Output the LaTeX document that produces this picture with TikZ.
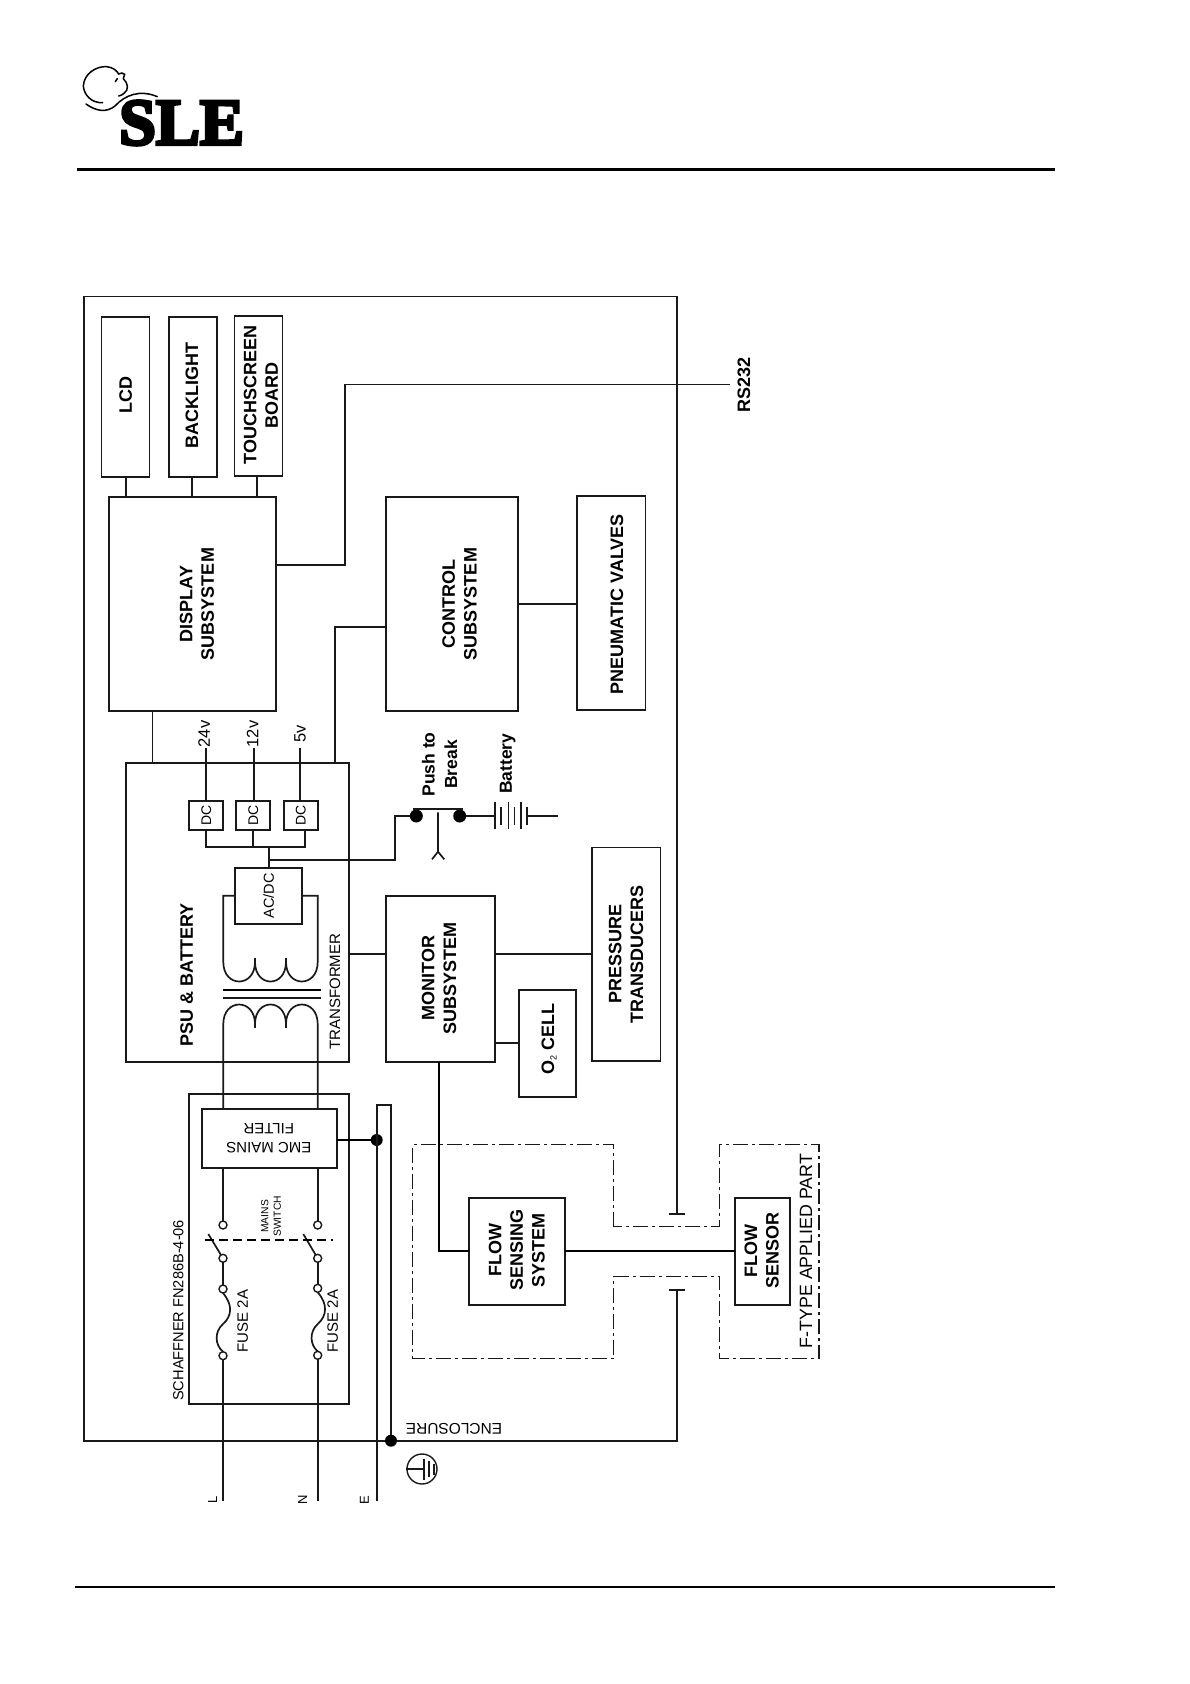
\documentclass[tikz,border=0pt]{standalone}
\usepackage{fontspec}
\setmainfont{Liberation Sans}
\newfontfamily\logofont[UprightFont=* Bold,FakeBold=5]{Liberation Serif}
\newcommand{\bxn}[6][]{\pgfmathsetmacro\bw{#5-#3}\pgfmathsetmacro\bh{#6-#4}\pgfmathsetmacro\bcx{(#3+#5)/2}\pgfmathsetmacro\bcy{(#4+#6)/2}\node[boxst,#1,minimum width=\bw pt,minimum height=\bh pt] (#2) at (\bcx,\bcy) {};}
\tikzset{
  wire/.style={line width=1.7pt,black!90},
  hvy/.style={line width=2.1pt,black},
  boxst/.style={draw=black!90,line width=1.7pt,inner sep=0,outer sep=0},
  bold18/.style={font=\fontsize{18}{21.6}\selectfont\bfseries,align=center,rotate=90,inner sep=0},
  reg15/.style={font=\fontsize{15}{17}\selectfont,align=center,rotate=90,inner sep=0},
  reg165/.style={font=\fontsize{16.5}{19}\selectfont,align=center,rotate=90,inner sep=0},
  tiny10/.style={font=\fontsize{10.3}{12.5}\selectfont,align=center,rotate=90,inner sep=0},
  upside/.style={font=\fontsize{15}{19}\selectfont,align=center,rotate=180,inner sep=0},
  term/.style={circle,draw=black!90,line width=1.4pt,fill=white,minimum size=8pt,inner sep=0,outer sep=0},
  jdot/.style={circle,fill=black,minimum size=12pt,inner sep=0,outer sep=0},
  ddot/.style={dash pattern=on 15pt off 4pt on 3pt off 4pt,line width=1.4pt,black!90},
}
\begin{document}
\begin{tikzpicture}[x=1pt,y=-1pt]
\useasboundingbox (0,0) rectangle (1190,1684);
\fill[white] (0,0) rectangle (1190,1684);
% header and footer
\coordinate (hl) at (77,169.5); \coordinate (hr) at (1055,169.5);
\coordinate (fl) at (75,1586.6); \coordinate (fr) at (1055,1586.6);
\draw[hvy] (hl) -- (hr);
\draw[hvy] (fl) -- (fr);
% logo
\node[font=\logofont\fontsize{66}{66}\selectfont,inner sep=0,anchor=base west] (logo) at (119,144.5) {SLE};
\begin{scope}[shift={(60,50)},scale=0.3333,line width=1.5pt,line cap=round]
\draw (78,162) .. controls (110,185) and (140,188) .. (165,168) .. controls (195,135) and (240,118) .. (292,140);
\draw (128,158) .. controls (95,160) and (72,135) .. (70,108) .. controls (72,70) and (110,48) .. (140,50) .. controls (160,52) and (170,62) .. (176,72) .. controls (182,68) and (190,68) .. (194,73) .. controls (192,80) and (190,83) .. (190,86) .. controls (205,100) and (207,120) .. (192,130) .. controls (188,134) and (182,137) .. (176,138);
\draw (166,95) -- (172,86);
\end{scope}
% outer enclosure
\coordinate (encTR) at (677,296.5);
\coordinate (encTL) at (84,296.5);
\coordinate (encBL) at (84,1440.7);
\coordinate (encBR) at (677,1440.7);
\coordinate (tUp) at (677,1213.7);
\coordinate (tDn) at (677,1290);
\draw[wire] (tUp) -- (encTR) -- (encTL) -- (encBL) -- (encBR) -- (tDn);
\draw[wire] (669.3,1213.7) -- (685.3,1213.7);
\draw[wire] (669.3,1290) -- (685.3,1290);
% boxes
\bxn{lcd}{101.5}{317}{149.5}{477}
\bxn{backlight}{169}{317}{217}{477}
\bxn{touch}{234.5}{316}{282.5}{476}
\bxn{display}{109}{497}{276}{711}
\bxn{control}{385.7}{497}{517.7}{711}
\bxn{pneu}{576.7}{496}{645.5}{710}
\bxn{psu}{125.7}{762.7}{348.7}{1061.7}
\bxn{monitor}{385.7}{895.7}{495.3}{1061.7}
\bxn{press}{592}{847.5}{660.5}{1061}
\bxn{otwo}{519.3}{989.7}{576.3}{1097}
\bxn{dca}{189.3}{801.3}{223.3}{830}
\bxn{dcb}{236.3}{801.3}{270.3}{830}
\bxn{dcc}{283.7}{801.3}{318}{830}
\bxn[line width=2pt]{acdc}{235}{867.7}{302.3}{924}
\bxn{schaff}{189.3}{1094.3}{348.7}{1404.3}
\bxn[line width=2pt]{emc}{201.7}{1108.7}{337}{1168.3}
\bxn{fsys}{469.3}{1197.7}{565}{1305}
\bxn{fsen}{734.7}{1197.7}{789.7}{1305}
% labels in boxes
\node[bold18] (tlcd) at (125.7,395) {LCD};
\node[bold18] (tback) at (192,395) {BACKLIGHT};
\node[bold18] (ttouch) at (261,395) {TOUCHSCREEN\\BOARD};
\node[bold18] (tdisp) at (197,604) {DISPLAY\\SUBSYSTEM};
\node[bold18] (tcont) at (459.5,604) {CONTROL\\SUBSYSTEM};
\node[bold18] (tpneu) at (617,604) {PNEUMATIC VALVES};
\node[bold18] (tpsu) at (186.7,975) {PSU \& BATTERY};
\node[reg15] (ttrans) at (335,991.7) {TRANSFORMER};
\node[bold18] (tmon) at (439,978) {MONITOR\\SUBSYSTEM};
\node[bold18] (tpress) at (626,954) {PRESSURE\\TRANSDUCERS};
\node[bold18] (totwo) at (549,1039) {O{\fontsize{9}{9}\selectfont\mdseries\raisebox{-2.5pt}{2}} CELL};
\node[reg15,font=\fontsize{14}{16}\selectfont] (tdca) at (206.3,815.6) {DC};
\node[reg15,font=\fontsize{14}{16}\selectfont] (tdcb) at (253.3,815.6) {DC};
\node[reg15,font=\fontsize{14}{16}\selectfont] (tdcc) at (300.8,815.6) {DC};
\node[reg15,font=\fontsize{14.5}{16}\selectfont] (tacdc) at (268.7,896) {AC/DC};
\node[upside] (temc) at (268.8,1138) {EMC MAINS\\FILTER};
\node[reg15,font=\fontsize{14.6}{16}\selectfont] (tsch) at (178.3,1310.3) {SCHAFFNER FN286B-4-06};
\node[tiny10] (tsw) at (271,1216.3) {MAINS\\SWITCH};
\node[reg15] (tfa) at (242.7,1321) {FUSE 2A};
\node[reg15] (tfb) at (332.7,1321) {FUSE 2A};
\node[upside,font=\fontsize{15.5}{17}\selectfont] (tenc) at (454,1429) {ENCLOSURE};
\node[bold18] (tflow) at (516.7,1250) {FLOW\\SENSING\\SYSTEM};
\node[bold18] (tfsen) at (761.7,1250.7) {FLOW\\SENSOR};
\node[reg165,font=\fontsize{17.8}{20}\selectfont] (tapp) at (806,1251) {F-TYPE APPLIED PART};
\node[bold18] (trs) at (744,385) {RS232};
\node[reg165] (v24) at (204,734) {24v};
\node[reg165] (v12) at (252.5,734) {12v};
\node[reg165] (v5) at (300,734) {5v};
\node[bold18,font=\fontsize{17.5}{22.5}\selectfont\bfseries] (tpush) at (439.7,764.5) {Push to\\Break};
\node[bold18,font=\fontsize{17.5}{20}\selectfont\bfseries] (tbat) at (507.7,763.7) {Battery};
\node[reg15,font=\fontsize{13}{15}\selectfont] (tL) at (212.7,1500) {L};
\node[reg15,font=\fontsize{13}{15}\selectfont] (tN) at (302.7,1500) {N};
\node[reg15,font=\fontsize{13}{15}\selectfont] (tE) at (364.3,1500) {E};
% display connectors
\draw[wire] (125.7,0 |- lcd.south) -- (125.7,0 |- display.north);
\draw[wire] (192,0 |- backlight.south) -- (192,0 |- display.north);
\draw[wire] (256.7,0 |- touch.south) -- (256.7,0 |- display.north);
\coordinate (rsEnd) at (730,384.5);
\draw[wire] (display.east |- 0,565) -- (344.7,565) -- (344.7,384.5) -- (rsEnd);
\draw[wire] (152.5,0 |- display.south) -- (152.5,0 |- psu.north);
\draw[wire] (control.west |- 0,627) -- (334.7,627) -- (334.7,0 |- psu.north);
\draw[wire] (control.east |- 0,604) -- (pneu.west |- 0,604);
% PSU interior
\coordinate (j) at (268.7,847);
\coordinate (jb) at (268.7,859.7);
\draw[wire] (205.7,748) -- (205.7,0 |- dca.north);
\draw[wire] (254,748) -- (254,0 |- dcb.north);
\draw[wire] (300.3,748) -- (300.3,0 |- dcc.north);
\draw[wire] (205.7,0 |- dca.south) -- (205.7,847) -- (305.3,847) -- (305.3,0 |- dcc.south);
\draw[wire] (253.3,0 |- dcb.south) -- (253.3,847);
\draw[wire] (j) -- (268.7,0 |- acdc.north);
% push to break and battery
\node[jdot,minimum size=13pt] (pa) at (416.3,816) {};
\node[jdot,minimum size=13pt] (pb) at (459.7,816) {};
\coordinate (bp) at (495,816);
\draw[wire] (jb) -- (395.3,859.7) -- (395.3,816) -- (pa);
\draw[wire] (pb) -- (bp);
\draw[wire] (413,809) -- (462.7,809);
\draw[wire] (438,812.3) -- (438,851.7) -- (432,859.3);
\draw[wire] (438,851.7) -- (444.3,859.3);
\draw[wire] (495,802) -- (495,829.3);
\draw[wire] (501,807) -- (501,825);
\draw[wire] (508.5,802) -- (508.5,829.3);
\draw[wire] (514.5,807) -- (514.5,825);
\draw[wire] (521,802) -- (521,829.3);
\draw[wire] (527.3,807) -- (527.3,825);
\coordinate (bEnd) at (557.7,816);
\draw[wire] (527.3,816) -- (bEnd);
% transformer
\draw[wire] (acdc.west |- 0,895.7) -- (223.3,895.7) -- (223.3,962)
  .. controls (223.3,988) and (255,988) .. (255,962)
  .. controls (255,988) and (286,988) .. (286,962)
  .. controls (286,988) and (317.7,988) .. (317.7,962) -- (317.7,895.7) -- (acdc.east |- 0,895.7);
\draw[wire] (255,958) -- (255,962);
\draw[wire] (286,958) -- (286,962);
\draw[wire] (223.3,0 |- emc.north) -- (223.3,1024)
  .. controls (223.3,998) and (255,998) .. (255,1024)
  .. controls (255,998) and (286,998) .. (286,1024)
  .. controls (286,998) and (317.7,998) .. (317.7,1024) -- (317.7,0 |- emc.north);
\draw[wire] (255,1024) -- (255,1028);
\draw[wire] (286,1024) -- (286,1028);
\draw[hvy,line width=1.8pt] (223,989.7) -- (320.7,989.7);
\draw[wire] (223,998) -- (320.7,998);
% monitor connectors
\draw[wire] (psu.east |- 0,954) -- (monitor.west |- 0,954);
\draw[wire] (monitor.east |- 0,954) -- (press.west |- 0,954);
\draw[wire] (monitor.east |- 0,1043.3) -- (otwo.west |- 0,1043.3);
\draw[hvy,line width=1.8pt] (438.7,0 |- monitor.south) -- (438.7,1251.3) -- (fsys.west |- 0,1251.3);
\draw[hvy,line width=1.8pt] (fsys.east |- 0,1251.3) -- (fsen.west |- 0,1251.3);
% isolation outlines
\draw[ddot] (613.7,1226.7) -- (613.7,1144.7) -- (412.7,1144.7) -- (412.7,1358.7) -- (613.7,1358.7) -- (613.7,1276.7) -- (719.3,1276.7) -- (719.3,1358.7) -- (819,1358.7) -- (819,1144.7) -- (719.3,1144.7) -- (719.3,1226.7) -- cycle;
% mains inputs
\node[term] (la) at (223,1225) {};
\node[term] (lb) at (223,1258.3) {};
\node[term] (lc) at (223,1289) {};
\node[term] (ld) at (223,1355.7) {};
\node[term] (na) at (317.7,1225) {};
\node[term] (nb) at (317.7,1258.3) {};
\node[term] (nc) at (317.7,1288.3) {};
\node[term] (nd) at (317.7,1355.3) {};
\coordinate (lEnd) at (223,1500.7);
\coordinate (nEnd) at (317.7,1500.7);
\draw[wire] (223,0 |- emc.south) -- (la);
\draw[wire] (lb) -- (lc);
\draw[wire] (ld) -- (lEnd);
\draw[wire] (317.7,0 |- emc.south) -- (na);
\draw[wire] (nb) -- (nc);
\draw[wire] (nd) -- (nEnd);
\coordinate (sla) at (208.3,1234);
\coordinate (sna) at (303.3,1234);
\draw[wire] (lb) -- (sla);
\draw[wire] (nb) -- (sna);
\draw[wire] (lc.south) .. controls (233,1305) and (232,1316) .. (223,1324) .. controls (214,1332) and (215,1345) .. (ld.north);
\draw[wire] (nc.south) .. controls (328,1304) and (327,1316) .. (317.7,1324) .. controls (309,1332) and (310,1345) .. (nd.north);
\draw[line width=1.9pt,dash pattern=on 9pt off 5pt] (205,1240) -- (333,1240);
% earth bus
\coordinate (eTL) at (376.7,1104.7);
\coordinate (eTR) at (391,1104.7);
\coordinate (eEnd) at (376.7,1500.7);
\node[jdot] (eb) at (376.7,1140) {};
\node[jdot] (ec) at (391,1440.7) {};
\draw[wire] (eEnd) -- (eTL) -- (eTR) -- (ec);
\draw[hvy] (emc.east |- eb) -- (eb);
% earth symbol
\node[circle,draw=black!90,line width=1.4pt,minimum size=30pt,inner sep=0] (gnd) at (422,1469) {};
\draw[wire] (gnd.west) -- (424,1469);
\draw[wire] (424,1458.5) -- (424,1479.5);
\draw[wire] (429.3,1461) -- (429.3,1477);
\draw[wire] (434,1463.5) -- (434,1474.5);
\end{tikzpicture}
\end{document}
